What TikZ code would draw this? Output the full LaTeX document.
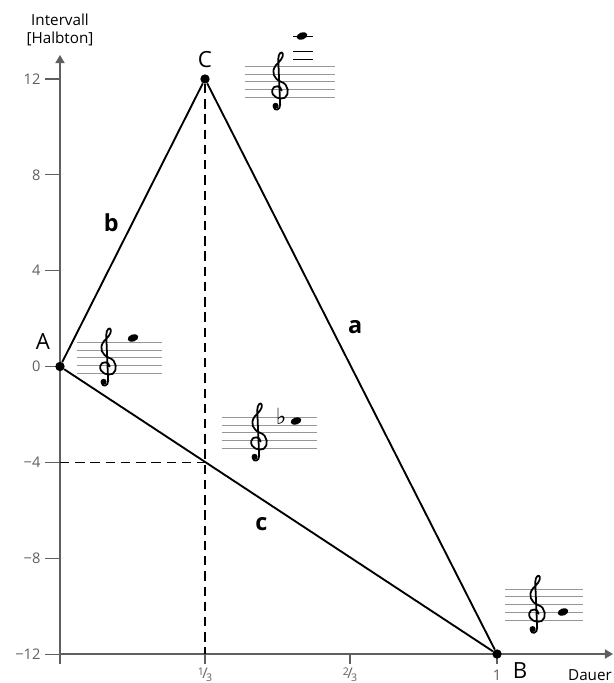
\documentclass[tikz,border=0pt]{standalone}
\usepackage{fontspec}
\setmainfont{Open Sans}
\newfontfamily\musicfont{DejaVu Sans}
\usetikzlibrary{arrows.meta,positioning,calc}
\definecolor{axisgray}{RGB}{95,95,95}
\definecolor{stavegray}{RGB}{150,150,150}
\newcommand\frc[1]{\raisebox{0.4ex}{\fontsize{9}{9}\selectfont #1}\kern-0.1em/\kern-0.1em\raisebox{-0.4ex}{\fontsize{9}{9}\selectfont 3}}
\tikzset{
  pics/gclef/.style={code={
    \begin{scope}[x=2.28mm, y=2.28mm, line width=1.5pt, line cap=round, line join=round]
      \draw (0.35,-0.15) .. controls (0.35,0.55) and (-0.8,0.65) .. (-0.9,-0.1)
        .. controls (-1.0,-1.0) and (0.1,-1.4) .. (0.75,-1.1)
        .. controls (1.4,-0.7) and (1.3,0.7) .. (0.3,1.0)
        .. controls (-0.7,1.4) and (-1.1,2.3) .. (-0.4,3.2)
        .. controls (0.1,3.7) and (0.6,4.2) .. (0.5,4.7)
        .. controls (0.4,5.1) and (-0.1,4.8) .. (-0.1,4.0)
        -- (0.15,-2.0)
        .. controls (0.2,-2.7) and (-0.6,-2.9) .. (-0.7,-2.3);
      \fill (-0.45,-2.15) circle [radius=0.4];
    \end{scope}
  }}
}

\begin{document}
\begin{tikzpicture}[x=0.3mm, y=-0.3mm,
  axis/.style={axisgray, line width=0.9pt},
  edge/.style={line width=1.6pt},
  guide/.style={line width=0.9pt, dash pattern=on 8pt off 5pt},
  dot/.style={circle, fill, inner sep=0pt, minimum size=8pt},
  tick/.style={font=\fontsize{12.5}{14}\selectfont, anchor=east, inner sep=0pt},
  corner/.style={font=\fontsize{19}{22}\selectfont, inner sep=0pt},
  side/.style={font=\fontsize{20}{24}\selectfont\bfseries, inner sep=0pt},
  title/.style={font=\fontsize{13}{15}\selectfont, align=center, inner sep=0pt},
  stave/.style={stavegray, line width=0.7pt}
]
  \useasboundingbox (0,0) rectangle (613,683);
  \coordinate (o) at (60,654);

  % axes
  \draw[axis, -{Triangle[length=7pt, width=8pt]}] (60,664) -- (60,55);
  \draw[axis, -{Triangle[length=7pt, width=8pt]}] (o) -- (613,654);
  \foreach \v/\t in {12/12, 8/8, 4/4, 0/0, -4/−4, -8/−8, -12/−12}
    \draw[axis] (45,{366.5-23.96*\v}) -- (60,{366.5-23.96*\v}) node[tick] at (41,{366.5-23.96*\v}) {\t};
  \foreach \x/\t in {205/\frc{1}, 350/\frc{2}, 497/1}
    \draw[axis] (\x,654) -- (\x,664) node[font=\fontsize{12.5}{14}\selectfont, inner sep=0pt] at (\x,675) {\t};
  \node[title] (ytitle) at (60,30) {Intervall\\{[Halbton]}};
  \node[title] (xtitle) at (590,675) {Dauer};

  % triangle
  \node[dot] (A) at (60,366.5) {};
  \node[dot] (C) at (205,79) {};
  \node[dot] (B) at (497,654) {};
  \coordinate (m) at ($(A)!1/3!(B)$);
  \draw[guide] (C) -- (C |- o);
  \draw[guide] (A |- m) -- (m);
  \draw[edge] (A) -- node[side, left=11pt] {b} (C);
  \draw[edge] (C) -- node[side, pos=0.43, right=14pt] {a} (B);
  \draw[edge] (A) -- node[side, pos=0.46, below=15pt] {c} (B);
  \node[corner] at (43,342) {A};
  \node[corner] at (205,60) {C};
  \node[corner] at (520,671) {B};

  % staves
  \foreach \x/\w/\y/\s in {77/162/342.7/7.6, 245/335/66.7/7.6, 222/317/417.7/7.6, 505/583/589/7.9}
    \foreach \k in {0,...,4}
      \draw[stave] (\x,{\y+\k*\s}) -- (\w,{\y+\k*\s});
  \foreach \y in {59.3, 51.7, 36}
    \draw[line width=0.8pt] (293,\y) -- (313,\y);
  \path (107,365.5) pic {gclef};
  \path (279,89.5) pic {gclef};
  \path (258,440.5) pic {gclef};
  \path (536,612.7) pic {gclef};
  \node[font=\musicfont\fontsize{19}{19}\selectfont, inner sep=0pt] (flat) at (281,416) {♭};
  \foreach \p in {(133,338), (302,36), (296,421), (563,612)}
    \fill[rotate around={20:\p}] \p ellipse [x radius=5.5, y radius=3.6];
\end{tikzpicture}
\end{document}
